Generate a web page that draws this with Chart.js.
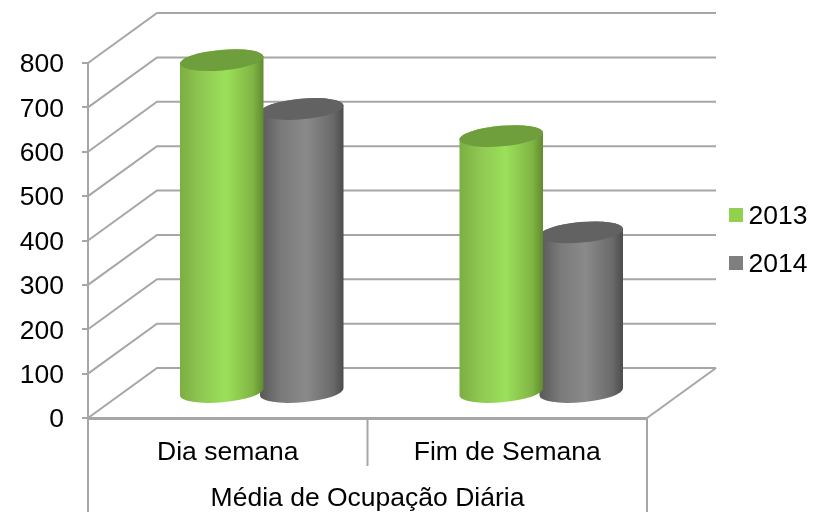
<!DOCTYPE html>
<html>
<head>
<meta charset="utf-8">
<script src="https://cdn.jsdelivr.net/npm/chart.js@4"></script>
<style>
  html, body { margin: 0; padding: 0; background: #fff; }
  canvas { display: block; }
</style>
</head>
<body>
<canvas id="myChart" width="819" height="512"></canvas>
<script>
const categories = ['Dia semana', 'Fim de Semana'];
const groupLabel = 'Média de Ocupação Diária';
const series2013 = [750, 579];
const series2014 = [640, 362];
const seriesNames = ['2013', '2014'];

const FONT = '"Liberation Sans", Arial, sans-serif';
const FONT_SIZE = 26.5;
const LINE = '#a6a6a6';
// how far the back wall sits from the front plane
const DEPTH_X = 69, DEPTH_Y = -50;

const shades = [
    { stops: ['#7cae42', '#8fc852', '#9be05a', '#80b544', '#5f8a30'], top: '#6f9f3c', legend: '#92d050' },
    { stops: ['#585858', '#7a7a7a', '#8a8a8a', '#6a6a6a', '#4c4c4c'], top: '#626262', legend: '#7f7f7f' }
];
const stopAt = [0, 0.25, 0.55, 0.87, 1];

function drawCylinder(ctx, el, shade) {
    const rx = el.width / 2 + 0.4, ry = 10.3, rot = -5 * Math.PI / 180;
    const cx = el.x + DEPTH_X / 2 - 0.5;
    const topY = el.y + DEPTH_Y / 2;
    const baseY = el.base + DEPTH_Y / 2;

    const grad = ctx.createLinearGradient(cx - rx, 0, cx + rx, 0);
    shade.stops.forEach((c, i) => grad.addColorStop(stopAt[i], c));

    ctx.beginPath();
    ctx.ellipse(cx, topY, rx, ry, rot, Math.PI, Math.PI * 2);
    ctx.ellipse(cx, baseY, rx, ry, rot, 0, Math.PI);
    ctx.closePath();
    ctx.fillStyle = grad;
    ctx.fill();

    ctx.beginPath();
    ctx.ellipse(cx, topY, rx, ry, rot, 0, Math.PI * 2);
    ctx.fillStyle = shade.top;
    ctx.fill();
}

const cylinders = {
    id: 'cylinders',
    // back wall and floor, under the bars
    beforeDatasetsDraw(chart) {
        const { ctx, scales: { x, y } } = chart;
        ctx.save();
        ctx.strokeStyle = LINE;
        ctx.lineWidth = 2;
        y.ticks.forEach(t => {
            const py = y.getPixelForValue(t.value);
            ctx.beginPath();
            ctx.moveTo(x.left, py);
            ctx.lineTo(x.left + DEPTH_X, py + DEPTH_Y);
            ctx.lineTo(x.right + DEPTH_X, py + DEPTH_Y);
            ctx.stroke();
        });
        const py0 = y.getPixelForValue(0);
        ctx.beginPath();
        ctx.moveTo(x.right + DEPTH_X, py0 + DEPTH_Y);
        ctx.lineTo(x.right, py0);
        ctx.stroke();
        // category separators, outer ones run down past the group label
        const mid = (x.left + x.right) / 2;
        ctx.beginPath();
        ctx.moveTo(x.left, x.top); ctx.lineTo(x.left, x.bottom);
        ctx.moveTo(mid, x.top); ctx.lineTo(mid, x.top + 48);
        ctx.moveTo(x.right, x.top); ctx.lineTo(x.right, x.bottom);
        ctx.stroke();
        ctx.restore();
    },
    beforeDatasetDraw(chart, args) {
        const { ctx } = chart;
        ctx.save();
        args.meta.data.forEach(el => drawCylinder(ctx, el, shades[args.index]));
        ctx.restore();
        return false;
    },
    afterDraw(chart) {
        const { ctx } = chart;
        ctx.save();
        ctx.font = FONT_SIZE + 'px ' + FONT;
        ctx.textBaseline = 'middle';
        chart.data.datasets.forEach((ds, i) => {
            const cy = 215 + i * 48;
            ctx.fillStyle = ds.backgroundColor;
            ctx.fillRect(729, cy - 7, 14, 14);
            ctx.fillStyle = '#000';
            ctx.fillText(ds.label, 748.5, cy + 2);
        });
        ctx.restore();
    }
};

new Chart(document.getElementById('myChart').getContext('2d'), {
    type: 'bar',
    plugins: [cylinders],
    data: {
        labels: categories,
        datasets: [
            { label: seriesNames[0], data: series2013, backgroundColor: shades[0].legend },
            { label: seriesNames[1], data: series2014, backgroundColor: shades[1].legend }
        ]
    },
    options: {
        responsive: false,
        animation: false,
        layout: { padding: { top: 63, right: 172 } },
        categoryPercentage: 0.5725,
        barPercentage: 1.0375,
        plugins: { legend: { display: false }, tooltip: { enabled: false } },
        scales: {
            x: {
                afterFit: s => { s.height = 94; },
                grid: { display: false },
                border: { color: LINE, width: 3 },
                ticks: { color: '#000', font: { family: FONT, size: FONT_SIZE }, maxRotation: 0, autoSkip: false, padding: 11 },
                title: { display: true, text: groupLabel, color: '#000', font: { family: FONT, size: FONT_SIZE }, padding: { top: 0, bottom: -3 } }
            },
            y: {
                min: 0,
                max: 800,
                afterFit: s => { s.width = 88; },
                grid: { drawOnChartArea: false, color: LINE, lineWidth: 2, tickLength: 6 },
                border: { color: LINE, width: 2 },
                ticks: { stepSize: 100, color: '#000', font: { family: FONT, size: FONT_SIZE }, padding: 18, labelOffset: 2 }
            }
        }
    }
});
</script>
</body>
</html>
